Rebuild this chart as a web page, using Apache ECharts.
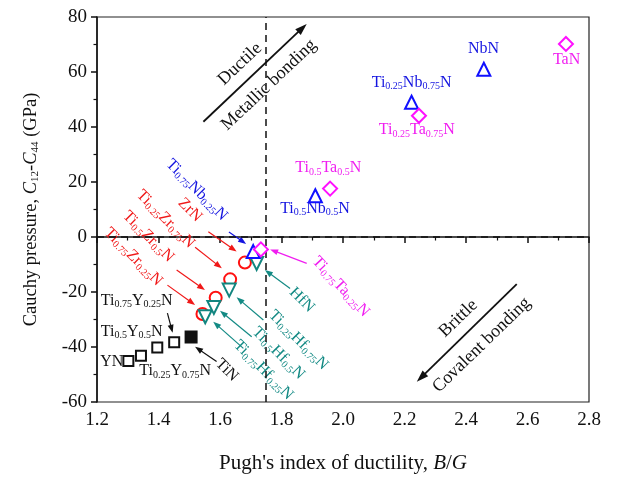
<!DOCTYPE html>
<html><head><meta charset="utf-8">
<script src="https://cdn.jsdelivr.net/npm/echarts@6/dist/echarts.min.js"></script>
<style>html,body{margin:0;padding:0;background:#fff}#c{width:624px;height:481px}</style>
</head><body><div id="c"></div>
<script>
// ---- data ----
const tiY_x  = [1.302, 1.343, 1.396, 1.451];
const tiY_y  = [-45.1, -43.2, -40.2, -38.3];
const tiN_x  = [1.506];
const tiN_y  = [-36.4];
const tiZr_x = [1.543, 1.586, 1.633, 1.681];
const tiZr_y = [-28.0, -22.1, -15.4, -9.3];
const tiHf_x = [1.552, 1.580, 1.630, 1.719];
const tiHf_y = [-29.0, -25.6, -19.3, -9.6];
const tiNb_x = [1.708, 1.910, 2.223, 2.458];
const tiNb_y = [-5.3, 15.0, 49.0, 61.0];
const tiTa_x = [1.733, 1.958, 2.247, 2.725];
const tiTa_y = [-4.5, 17.6, 44.1, 70.2];
const xLimits = [1.2, 2.8];
const yLimits = [-60, 80];
const ductileBG = 1.75;
const cauchyZero = 0;

const FONT = "'Liberation Serif','Times New Roman',serif";
const BLUE = '#1414e0', MAG = '#f01ef0', RED = '#f01818', TEAL = '#138a84', BLACK = '#111';

// annotation texts (positions in data units)
const anns = [
 {t:'NbN', x:2.457, y:68.3, r:0, c:BLUE},
 {t:'Ti_{0.25}Nb_{0.75}N', x:2.223, y:56.1, r:0, c:BLUE},
 {t:'Ti_{0.5}Nb_{0.5}N', x:1.909, y:10.4, r:0, c:BLUE},
 {t:'Ti_{0.75}Nb_{0.25}N', x:1.524, y:17.1, r:-45, c:BLUE},
 {t:'TaN', x:2.727, y:64.6, r:0, c:MAG},
 {t:'Ti_{0.25}Ta_{0.75}N', x:2.240, y:38.9, r:0, c:MAG},
 {t:'Ti_{0.5}Ta_{0.5}N', x:1.952, y:25.0, r:0, c:MAG},
 {t:'Ti_{0.75}Ta_{0.25}N', x:1.993, y:-18.1, r:-47, c:MAG},
 {t:'ZrN', x:1.502, y:9.8, r:-45, c:RED},
 {t:'Ti_{0.25}Zr_{0.75}N', x:1.423, y:6.5, r:-45, c:RED},
 {t:'Ti_{0.5}Zr_{0.5}N', x:1.367, y:0.1, r:-45, c:RED},
 {t:'Ti_{0.75}Zr_{0.25}N', x:1.318, y:-7.2, r:-45, c:RED},
 {t:'HfN', x:1.866, y:-22.9, r:-45, c:TEAL},
 {t:'Ti_{0.25}Hf_{0.75}N', x:1.855, y:-37.5, r:-45, c:TEAL},
 {t:'Ti_{0.5}Hf_{0.5}N', x:1.790, y:-42.3, r:-45, c:TEAL},
 {t:'Ti_{0.75}Hf_{0.25}N', x:1.741, y:-48.4, r:-45, c:TEAL},
 {t:'Ti_{0.75}Y_{0.25}N', x:1.329, y:-23.2, r:0, c:BLACK},
 {t:'Ti_{0.5}Y_{0.5}N', x:1.313, y:-34.4, r:0, c:BLACK},
 {t:'YN', x:1.248, y:-45.3, r:0, c:BLACK},
 {t:'Ti_{0.25}Y_{0.75}N', x:1.454, y:-48.7, r:0, c:BLACK},
 {t:'TiN', x:1.622, y:-48.4, r:-45, c:BLACK},
 {t:'Ductile', x:1.665, y:62.9, r:43.5, c:BLACK, big:true},
 {t:'Metallic bonding', x:1.759, y:55.3, r:43.5, c:BLACK, big:true},
 {t:'Brittle', x:2.375, y:-29.6, r:44, c:BLACK, big:true},
 {t:'Covalent bonding', x:2.451, y:-39.3, r:44, c:BLACK, big:true}
];
// arrows (from -> to, data units)
const arrows = [
 {x0:1.629, y0:1.8, x1:1.685, y1:-2.5, c:BLUE},
 {x0:1.882, y0:-9.6, x1:1.763, y1:-4.5, c:MAG},
 {x0:1.562, y0:1.9, x1:1.654, y1:-5.3, c:RED},
 {x0:1.519, y0:-3.7, x1:1.606, y1:-11.4, c:RED},
 {x0:1.459, y0:-12.0, x1:1.551, y1:-19.3, c:RED},
 {x0:1.429, y0:-17.5, x1:1.519, y1:-24.7, c:RED},
 {x0:1.828, y0:-18.7, x1:1.746, y1:-12.0, c:TEAL},
 {x0:1.741, y0:-30.2, x1:1.654, y1:-21.9, c:TEAL},
 {x0:1.703, y0:-36.3, x1:1.600, y1:-26.8, c:TEAL},
 {x0:1.676, y0:-40.5, x1:1.578, y1:-30.8, c:TEAL},
 {x0:1.429, y0:-27.7, x1:1.446, y1:-34.8, c:BLACK},
 {x0:1.589, y0:-45.3, x1:1.519, y1:-39.9, c:BLACK},
 {x0:1.546, y0:41.9, x1:1.882, y1:77.5, c:BLACK, big:true},
 {x0:2.565, y0:-17.1, x1:2.240, y1:-52.6, c:BLACK, big:true}
];

function zip(a, b) { return a.map((v, i) => [v, b[i]]); }
function fmt(s) {
  return s.split(/(_\{[^}]*\})/).filter(Boolean)
    .map(t => t.startsWith('_{') ? '{s|' + t.slice(2, -1) + '}' : '{m|' + t + '}').join('');
}

const chart = echarts.init(document.getElementById('c'), null, {renderer: 'canvas'});

function scatter(name, data, symbol, size, color, filled, rot) {
  return {
    name, type: 'scatter', data, symbol, symbolSize: size, symbolRotate: rot || 0, z: 5,
    itemStyle: {color: filled ? color : '#fff', borderColor: color, borderWidth: 2, opacity: 1},
    emphasis: {disabled: true}
  };
}

const option = {
  animation: false,
  backgroundColor: '#fff',
  grid: {left: 97, right: 35, top: 17, bottom: 79, show: true, borderColor: '#222', borderWidth: 1.2},
  xAxis: {
    type: 'value', min: xLimits[0], max: xLimits[1], interval: 0.2,
    name: "{n|Pugh's index of ductility, }{i|B}{n|/}{i|G}", nameLocation: 'middle', nameGap: 51,
    nameTextStyle: {rich: {n: {fontSize: 21, fontFamily: FONT, color: '#111'}, i: {fontSize: 21, fontFamily: FONT, fontStyle: 'italic', color: '#111'}}},
    axisLine: {show: true, lineStyle: {color: '#111', width: 1.5}},
    axisTick: {show: true, inside: false, length: 6, lineStyle: {color: '#111', width: 1.5}},
    minorTick: {show: true, splitNumber: 2, length: 3.5, lineStyle: {color: '#111', width: 1.2}},
    axisLabel: {fontSize: 19, fontFamily: FONT, color: '#111', margin: 9, formatter: v => v.toFixed(1)},
    splitLine: {show: false}
  },
  yAxis: {
    type: 'value', min: yLimits[0], max: yLimits[1], interval: 20,
    name: '{n|Cauchy pressure, }{i|C}{s|12}{n|-}{i|C}{s|44}{n| (GPa)}', nameLocation: 'middle', nameGap: 56, nameRotate: 90,
    nameTextStyle: {rich: {
      n: {fontSize: 18.5, fontFamily: FONT, color: '#111', lineHeight: 20, verticalAlign: 'middle'},
      i: {fontSize: 18.5, fontFamily: FONT, fontStyle: 'italic', color: '#111', lineHeight: 20, verticalAlign: 'middle'},
      s: {fontSize: 11, fontFamily: FONT, color: '#111', lineHeight: 12, verticalAlign: 'bottom'}
    }},
    axisLine: {show: true, lineStyle: {color: '#111', width: 1.5}},
    axisTick: {show: true, inside: false, length: 6, lineStyle: {color: '#111', width: 1.5}},
    minorTick: {show: true, splitNumber: 2, length: 3.5, lineStyle: {color: '#111', width: 1.2}},
    axisLabel: {fontSize: 19, fontFamily: FONT, color: '#111', margin: 10},
    splitLine: {show: false}
  },
  series: [
    {
      type: 'custom', coordinateSystem: 'cartesian2d', z: 3, silent: true,
      data: arrows.map((a, i) => [a.x0, a.y0, i]),
      renderItem: (params, api) => {
        const a = arrows[params.dataIndex];
        const p0 = api.coord([a.x0, a.y0]), p1 = api.coord([a.x1, a.y1]);
        const ang = Math.atan2(p1[1] - p0[1], p1[0] - p0[0]);
        const L = a.big ? 12 : 8, W = (a.big ? 8 : 6) / 2;
        const bx = p1[0] - L * Math.cos(ang), by = p1[1] - L * Math.sin(ang);
        const nx = -Math.sin(ang), ny = Math.cos(ang);
        return {type: 'group', children: [
          {type: 'line', shape: {x1: p0[0], y1: p0[1], x2: bx + L * 0.3 * Math.cos(ang), y2: by + L * 0.3 * Math.sin(ang)}, style: {stroke: a.c, lineWidth: a.big ? 1.8 : 1.2}},
          {type: 'polygon', shape: {points: [[p1[0], p1[1]], [bx + nx * W, by + ny * W], [bx - nx * W, by - ny * W]]}, style: {fill: a.c}}
        ]};
      },
      markLine: {
        silent: true, symbol: 'none', label: {show: false},
        lineStyle: {color: '#111', type: [7, 5], width: 1.5},
        data: [{xAxis: ductileBG}, {yAxis: cauchyZero}]
      }
    },
    {
      type: 'custom', coordinateSystem: 'cartesian2d', z: 4, silent: true,
      data: anns.map((a, i) => [a.x, a.y, i]),
      renderItem: (params, api) => {
        const a = anns[params.dataIndex];
        const p = api.coord([a.x, a.y]);
        const fs = a.big ? 18 : 16;
        return {
          type: 'text', x: p[0], y: p[1], rotation: a.r * Math.PI / 180,
          style: {
            text: fmt(a.t), align: 'center', verticalAlign: 'middle',
            rich: {
              m: {fontSize: fs, fontFamily: FONT, fill: a.c, lineHeight: 18, verticalAlign: 'middle'},
              s: {fontSize: 10, fontFamily: FONT, fill: a.c, lineHeight: 11, verticalAlign: 'bottom'}
            }
          }
        };
      }
    },
    scatter('TiY', zip(tiY_x, tiY_y), 'rect', 10, '#111', false),
    scatter('TiN', zip(tiN_x, tiN_y), 'rect', 11, '#111', true),
    scatter('TiZr', zip(tiZr_x, tiZr_y), 'circle', 12, '#ff1010', false),
    scatter('TiHf', zip(tiHf_x, tiHf_y), 'triangle', 13, '#12857f', false, 180),
    scatter('TiNb', zip(tiNb_x, tiNb_y), 'triangle', 13, '#1010ff', false),
    scatter('TiTa', zip(tiTa_x, tiTa_y), 'diamond', 14, '#ff10ff', false)
  ]
};
chart.setOption(option);
</script></body></html>
